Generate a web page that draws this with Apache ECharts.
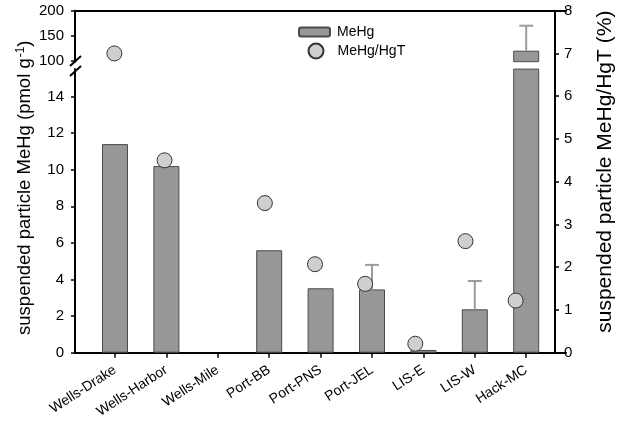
<!DOCTYPE html>
<html><head><meta charset="utf-8">
<script src="https://cdn.jsdelivr.net/npm/echarts@6/dist/echarts.min.js"></script>
<style>html,body{margin:0;padding:0;background:#fff}#c{width:624px;height:423px}</style>
</head><body><div id="c"></div>
<script>
const categories = ['Wells-Drake','Wells-Harbor','Wells-Mile','Port-BB','Port-PNS','Port-JEL','LIS-E','LIS-W','Hack-MC'];
const meHg = [11.4, 10.2, null, 5.6, 3.52, 3.46, 0.15, 2.37, 120];
const meHgErrTop = [null, null, null, null, null, 4.8, null, 3.92, 170];
const ratio = [7.0, 4.5, null, 3.5, 2.07, 1.61, 0.21, 2.61, 1.22];
const leftLowerTicks = [0, 2, 4, 6, 8, 10, 12, 14];
const leftUpperTicks = [100, 150, 200];
const rightTicks = [0, 1, 2, 3, 4, 5, 6, 7, 8];

const lowerMax = 15.5, upperMin = 98, upperMax = 200;
const FF = '"Liberation Sans", Arial, sans-serif';
const AX = '#000';

const upperBars = meHg.map(v => (v != null && v > upperMin) ? v : null);
const lowerErr = [], upperErr = [];
meHgErrTop.forEach((t, i) => {
  if (t == null) return;
  if (t <= lowerMax) lowerErr.push([i, meHg[i], t]);
  else upperErr.push([i, Math.max(meHg[i], upperMin), t]);
});

function errRender(params, api) {
  const x = api.value(0), lo = api.value(1), hi = api.value(2);
  const p0 = api.coord([x, lo]), p1 = api.coord([x, hi]);
  const cap = 7;
  const st = { stroke: '#9c9c9c', lineWidth: 2 };
  return { type: 'group', children: [
    { type: 'line', shape: { x1: p0[0], y1: p0[1], x2: p1[0], y2: p1[1] }, style: st },
    { type: 'line', shape: { x1: p1[0] - cap, y1: p1[1], x2: p1[0] + cap, y2: p1[1] }, style: st }
  ]};
}

const GL = 89.3, GR = 72.1, TOP = 10.7, BOT = 70.3, OFF = 14.3;
const lineStyle = { color: AX, width: 2 };
const tick = { show: true, inside: false, length: 4, lineStyle: { color: AX, width: 1.5 } };
const tickFont = { fontSize: 15, fontFamily: FF, color: '#000' };

const chart = echarts.init(document.getElementById('c'), null, { renderer: 'canvas' });
chart.setOption({
  backgroundColor: '#fff',
  animation: false,
  textStyle: { fontFamily: FF },
  grid: [
    { left: GL, right: GR, top: TOP, height: (upperMax - upperMin) * 0.5 },
    { left: GL, right: GR, top: 69.1, bottom: BOT },
    { left: GL, right: GR, top: TOP, bottom: BOT },
    { left: 75, right: 58, top: TOP, bottom: BOT }
  ],
  legend: [
    { data: ['MeHg'], left: 298, top: 25, padding: 0, itemWidth: 31, itemHeight: 9, selectedMode: false,
      textStyle: { fontSize: 14, fontFamily: FF, color: '#000', padding: [0, 0, 0, 2] } },
    { data: ['MeHg/HgT'], left: 307.5, top: 42.5, padding: 0, itemWidth: 15, itemHeight: 15, selectedMode: false,
      textStyle: { fontSize: 14, fontFamily: FF, color: '#000', padding: [0, 0, 0, 9] } }
  ],
  xAxis: [
    { gridIndex: 0, type: 'category', data: categories, show: false },
    { gridIndex: 1, type: 'category', data: categories,
      axisLine: { show: false, onZero: false },
      axisTick: { show: true, alignWithLabel: true, length: 5, lineStyle: { color: AX, width: 1.5 } },
      axisLabel: { rotate: 33, fontSize: 14, fontFamily: FF, color: '#000', margin: 16, interval: 0 } },
    { gridIndex: 2, type: 'category', data: categories, show: false },
    { gridIndex: 3, type: 'value', min: 0, max: 1, position: 'bottom',
      axisLine: { show: true, onZero: false, lineStyle }, axisTick: { show: false }, axisLabel: { show: false }, splitLine: { show: false } },
    { gridIndex: 3, type: 'value', min: 0, max: 1, position: 'top',
      axisLine: { show: true, onZero: false, lineStyle }, axisTick: { show: false }, axisLabel: { show: false }, splitLine: { show: false } }
  ],
  yAxis: [
    { gridIndex: 0, type: 'value', min: upperMin, max: upperMax, position: 'left', offset: OFF,
      axisLine: { show: true, onZero: false, lineStyle },
      axisTick: Object.assign({ customValues: leftUpperTicks }, tick),
      axisLabel: Object.assign({ customValues: leftUpperTicks, margin: 11 }, tickFont),
      splitLine: { show: false } },
    { gridIndex: 1, type: 'value', min: 0, max: lowerMax, position: 'left', offset: OFF,
      axisLine: { show: true, onZero: false, lineStyle },
      axisTick: Object.assign({ customValues: leftLowerTicks }, tick),
      axisLabel: Object.assign({ customValues: leftLowerTicks, margin: 11 }, tickFont),
      splitLine: { show: false } },
    { gridIndex: 2, type: 'value', min: 0, max: 8, interval: 1, position: 'right', offset: OFF,
      axisLine: { show: true, onZero: false, lineStyle },
      axisTick: Object.assign({ customValues: rightTicks }, tick),
      axisLabel: Object.assign({ customValues: rightTicks, margin: 9 }, tickFont),
      splitLine: { show: false },
      name: 'suspended particle MeHg/HgT (%)', nameLocation: 'middle', nameGap: 40,
      nameTextStyle: { fontSize: 21, fontFamily: FF, color: '#000', padding: [0, 0, 0, 20] } },
    { gridIndex: 2, type: 'value', min: 0, max: 8, position: 'left', offset: OFF,
      axisLine: { show: false }, axisTick: { show: false }, axisLabel: { show: false }, splitLine: { show: false },
      name: '{a|suspended particle MeHg (pmol g}{s|-1}{a|)}', nameLocation: 'middle', nameGap: 41,
      nameTextStyle: { fontSize: 18.5, fontFamily: FF, color: '#000', padding: [0, 12, 0, 0],
        rich: { a: { fontSize: 18.5, fontFamily: FF, color: '#000' },
                s: { fontSize: 12, fontFamily: FF, color: '#000', verticalAlign: 'top', padding: [0, 0, 7, 1] } } } },
    { gridIndex: 3, type: 'value', show: false, min: 0, max: 1 }
  ],
  series: [
    { name: 'MeHg', type: 'bar', xAxisIndex: 0, yAxisIndex: 0, data: upperBars, barWidth: 26,
      itemStyle: { color: '#979797', borderColor: '#4a4a4a', borderWidth: 1 }, z: 2 },
    { name: 'MeHg', type: 'bar', xAxisIndex: 1, yAxisIndex: 1, data: meHg, barWidth: 26,
      itemStyle: { color: '#979797', borderColor: '#4a4a4a', borderWidth: 1 }, z: 2 },
    { type: 'custom', xAxisIndex: 1, yAxisIndex: 1, data: lowerErr, renderItem: errRender, z: 3 },
    { type: 'custom', xAxisIndex: 0, yAxisIndex: 0, data: upperErr, renderItem: errRender, z: 3 },
    { name: 'MeHg/HgT', type: 'scatter', xAxisIndex: 2, yAxisIndex: 2, data: ratio, symbolSize: 15,
      itemStyle: { color: '#cfcfcf', borderColor: '#333', borderWidth: 1, opacity: 1 }, z: 5 }
  ],
  graphic: [
    { type: 'line', shape: { x1: 70, y1: 66, x2: 81, y2: 56 }, style: { stroke: AX, lineWidth: 2 }, z: 10 },
    { type: 'line', shape: { x1: 70, y1: 76, x2: 81, y2: 66 }, style: { stroke: AX, lineWidth: 2 }, z: 10 }
  ]
});
</script></body></html>
